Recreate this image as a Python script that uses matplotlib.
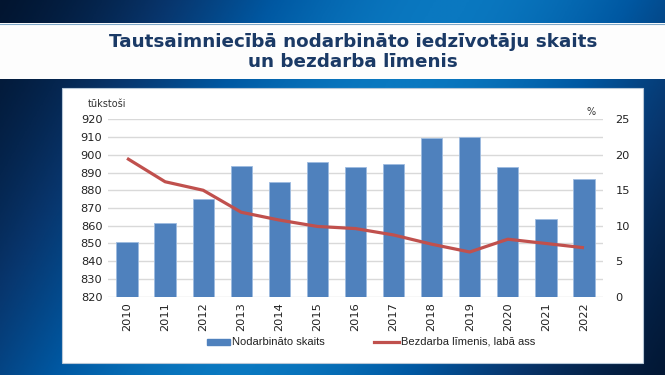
import matplotlib
matplotlib.use("Agg")
import matplotlib.pyplot as plt
import numpy as np
from matplotlib.colors import LinearSegmentedColormap

years = ["2010", "2011", "2012", "2013", "2014", "2015", "2016", "2017",
         "2018", "2019", "2020", "2021", "2022"]
employed = [850.7, 861.4, 875.2, 893.8, 884.5, 895.9, 893.1, 894.6,
            909.6, 910.0, 892.9, 863.8, 886.2]
unemployment = [19.5, 16.2, 15.0, 11.9, 10.8, 9.9, 9.6, 8.7,
                7.4, 6.3, 8.1, 7.5, 6.9]
left_ticks = [820, 830, 840, 850, 860, 870, 880, 890, 900, 910, 920]
right_ticks = [0, 5, 10, 15, 20, 25]

title = "Tautsaimniecībā nodarbināto iedzīvotāju skaits\nun bezdarba līmenis"
left_unit = "tūkstoši"
right_unit = "%"
bar_label = "Nodarbināto skaits"
line_label = "Bezdarba līmenis, labā ass"

W, H = 665, 375
fig = plt.figure(figsize=(W / 100, H / 100), dpi=100)

# background gradient (dark top-left and bottom-right, bright diagonal band)
bg = fig.add_axes([0, 0, 1, 1])
bg.set_axis_off()
xg = np.linspace(0, 1, 500)
yg = np.linspace(0, 1, 300)
X, Y = np.meshgrid(xg, yg)
d = X - (0.35 + 0.33 * Y)
val = np.exp(-d ** 2 / 0.2)
cmap = LinearSegmentedColormap.from_list(
    "bgc", ["#021530", "#08356c", "#0058a2", "#0a78c0"])
bg.imshow(val, cmap=cmap, aspect="auto", extent=[0, 1, 0, 1], origin="lower")
bg.set_xlim(0, 1)
bg.set_ylim(0, 1)

# title band
bg.add_patch(plt.Rectangle((0, 1 - 79 / H), 1, (79 - 23) / H, facecolor="#fdfdfd",
                           edgecolor="none", zorder=2))
bg.plot([0, 1], [1 - 23.5 / H] * 2, color="#7fa8c8", linewidth=0.8, zorder=3)
bg.text(353 / W, 1 - 52 / H, title, ha="center", va="center", fontsize=13.2,
        fontweight="bold", color="#1b3a66", linespacing=1.12, zorder=3,
        family="DejaVu Sans")

# chart panel
bg.add_patch(plt.Rectangle((62 / W, 1 - 363 / H), (643 - 62) / W, (363 - 88) / H,
                           facecolor="white", edgecolor="#b8c8d8", linewidth=0.8,
                           zorder=2))

# plot area
x0, x1 = 108, 603
y0, y1 = 119.3, 296.7
ax = fig.add_axes([x0 / W, 1 - y1 / H, (x1 - x0) / W, (y1 - y0) / H])
ax.set_facecolor("white")
xpos = np.arange(len(years))
ax.bar(xpos, [e - 820 for e in employed], bottom=820, width=0.56,
       color="#4f81bd", edgecolor="#9dbbe0", linewidth=0.6, zorder=2,
       label=bar_label)
ax.set_ylim(820, 920)
ax.set_xlim(-0.5, len(years) - 0.5)
ax.set_yticks(left_ticks)
ax.set_yticklabels([str(t) for t in left_ticks], fontsize=8.2, color="#222222")
ax.set_xticks(xpos)
ax.set_xticklabels(years, rotation=90, fontsize=8.2, color="#222222")
ax.tick_params(length=0, pad=4)
ax.grid(axis="y", color="#d9d9d9", linewidth=1.0, zorder=0)
for s in ax.spines.values():
    s.set_visible(False)

ax2 = ax.twinx()
ax2.plot(xpos, unemployment, color="#c0504d", linewidth=2.3, zorder=3,
         solid_capstyle="butt", label=line_label)
ax2.set_ylim(0, 25)
ax2.set_yticks(right_ticks)
ax2.set_yticklabels([str(t) for t in right_ticks], fontsize=8.2, color="#222222")
ax2.tick_params(length=0, pad=9)
for s in ax2.spines.values():
    s.set_visible(False)

fig.text(88 / W, 1 - 104 / H, left_unit, fontsize=7, color="#333333", va="center")
fig.text(591 / W, 1 - 112 / H, right_unit, fontsize=7, color="#333333",
         va="center", ha="center")

# legend
ly = 1 - 342 / H
bg.add_patch(plt.Rectangle((207 / W, ly - 3 / H), 23 / W, 6 / H, color="#4f81bd", zorder=4))
bg.text(232 / W, ly, bar_label, fontsize=8.0, color="#222222", va="center", zorder=4,
        family=["Liberation Sans", "DejaVu Sans"])
bg.plot([374 / W, 399 / W], [ly, ly], color="#c0504d", linewidth=2.3, zorder=4)
bg.text(401 / W, ly, line_label, fontsize=8.0, color="#222222", va="center", zorder=4,
        family=["Liberation Sans", "DejaVu Sans"])

fig.savefig("out.png", dpi=100)
